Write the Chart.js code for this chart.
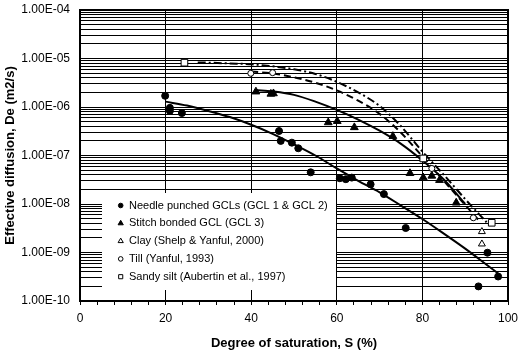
<!DOCTYPE html>
<html>
<head>
<meta charset="utf-8">
<script src="https://cdn.jsdelivr.net/npm/chart.js@4.4.1/dist/chart.umd.min.js"></script>
<style>
  html, body { margin: 0; padding: 0; background: #fff; }
</style>
</head>
<body>
<canvas id="diffChart" width="519" height="354"></canvas>
<script>
// measured points, degree of saturation S (%) and De (m2/s)
const needleS = [19.9, 21.0, 21.0, 23.8, 46.5, 46.9, 49.5, 51.0, 53.9, 60.7, 62.1, 63.5, 67.9, 71.0, 76.1, 93.1, 95.2, 97.7];
const needleDe = [1.7e-6, 9.6e-7, 8.3e-7, 7.5e-7, 3.2e-7, 2.0e-7, 1.84e-7, 1.41e-7, 4.5e-8, 3.4e-8, 3.25e-8, 3.5e-8, 2.55e-8, 1.6e-8, 3.2e-9, 2.0e-10, 9.9e-10, 3.2e-10];

const stitchS = [41.1, 44.6, 45.2, 58.0, 60.1, 64.1, 73.1, 77.1, 80.2, 82.2, 84.0, 87.9];
const stitchDe = [2.07e-6, 1.86e-6, 1.9e-6, 4.8e-7, 5.1e-7, 3.8e-7, 2.5e-7, 4.3e-8, 3.5e-8, 3.8e-8, 3.1e-8, 1.06e-8];

const clayS = [93.9, 93.9];
const clayDe = [2.7e-9, 1.5e-9];

const tillS = [39.9, 45.0, 82.2, 91.9];
const tillDe = [4.95e-6, 5.1e-6, 5.4e-8, 5.2e-9];

const siltS = [24.4, 80.2, 96.2];
const siltDe = [8.2e-6, 8.7e-8, 4.1e-9];

// fitted trend lines
const needleFitS = [20, 25, 30, 35, 40, 45, 50, 55, 60, 65, 70, 75, 80, 85, 90, 95, 97.7];
const needleFitDe = [1.29e-6, 1.07e-6, 8.3e-7, 6.2e-7, 4.3e-7, 2.8e-7, 1.7e-7, 1.0e-7, 5.4e-8, 3.0e-8, 1.74e-8, 9.3e-9, 4.9e-9, 2.45e-9, 1.2e-9, 5.6e-10, 3.7e-10];

const stitchFitS = [41, 45, 50, 55, 60, 65, 70, 75, 80, 85, 90];
const stitchFitDe = [2.24e-6, 2.09e-6, 1.78e-6, 1.29e-6, 8.7e-7, 5.5e-7, 3.24e-7, 1.74e-7, 7.9e-8, 3.2e-8, 1.0e-8];

const tillFitS = [40, 45, 50, 55, 60, 65, 70, 75, 80, 85, 90, 93];
const tillFitDe = [5.4e-6, 4.9e-6, 4.1e-6, 3.16e-6, 2.2e-6, 1.35e-6, 7.2e-7, 2.95e-7, 9.5e-8, 3.0e-8, 9.5e-9, 4.8e-9];

const siltFitS = [27.5, 30, 35, 40, 45, 50, 55, 60, 65, 70, 75, 80, 85, 90, 95];
const siltFitDe = [8.3e-6, 8.2e-6, 7.9e-6, 7.6e-6, 6.9e-6, 6.0e-6, 4.8e-6, 3.3e-6, 2.0e-6, 1.05e-6, 4.0e-7, 1.2e-7, 4.0e-8, 1.26e-8, 4.2e-9];

const legendLabels = [
  'Needle punched GCLs (GCL 1 & GCL 2)',
  'Stitch bonded GCL (GCL 3)',
  'Clay (Shelp & Yanful, 2000)',
  'Till (Yanful, 1993)',
  'Sandy silt (Aubertin et al., 1997)'
];

const decades = [-10, -9, -8, -7, -6, -5, -4];

const pts = (xs, ys) => xs.map((x, i) => ({ x: x, y: ys[i] }));

function sciLabel(v) {
  const e = Math.round(Math.log10(v));
  return '1.00E' + (e < 0 ? '-' : '+') + String(Math.abs(e)).padStart(2, '0');
}

// 1..9 x 10^n grid, no 1.5 steps
const yTicks = [];
decades.forEach(e => {
  for (let m = 1; m <= 9; m++) {
    if (e === -4 && m > 1) break;
    yTicks.push(Number(m + 'e' + e));
  }
});

Chart.defaults.font.family = '"Liberation Sans", Arial, sans-serif';
Chart.defaults.color = '#000';

const markerSet = (label, xs, ys, style, r, fill) => ({
  label: label,
  data: pts(xs, ys),
  pointStyle: style,
  pointRadius: r,
  pointBackgroundColor: fill,
  pointBorderColor: '#000',
  pointBorderWidth: 1,
  backgroundColor: fill,
  borderColor: '#000',
  showLine: false
});

const fitLine = (xs, ys, dash) => ({
  data: pts(xs, ys),
  showLine: true,
  pointRadius: 0,
  borderColor: '#000',
  borderWidth: 2,
  borderDash: dash,
  cubicInterpolationMode: 'monotone',
  fitLine: true
});

const legendBox = {
  id: 'legendBox',
  beforeDatasetsDraw(chart) {
    const ctx = chart.ctx;
    ctx.save();
    ctx.fillStyle = '#fff';
    ctx.fillRect(102, 193, 234, 97);
    ctx.font = '11px "Liberation Sans", Arial, sans-serif';
    ctx.textBaseline = 'middle';
    const sizes = [2.3, 3, 3, 2.3, 2.9];
    chart.data.datasets.filter(d => !d.fitLine).forEach((d, i) => {
      const y = 205.5 + i * 17.8;
      ctx.fillStyle = d.pointBackgroundColor;
      ctx.strokeStyle = '#000';
      ctx.lineWidth = 1;
      Chart.helpers.drawPoint(ctx, { pointStyle: d.pointStyle, radius: sizes[i], borderWidth: 1, rotation: 0 }, 120.7, y);
      ctx.fillStyle = '#000';
      ctx.fillText(d.label, 129, y);
    });
    ctx.restore();
  },
  afterDatasetsDraw(chart) {
    const a = chart.chartArea;
    const ctx = chart.ctx;
    ctx.save();
    ctx.strokeStyle = '#000';
    ctx.lineWidth = 2;
    ctx.strokeRect(a.left, a.top, a.right - a.left, a.bottom - a.top);
    ctx.restore();
  }
};

new Chart(document.getElementById('diffChart'), {
  type: 'scatter',
  data: {
    datasets: [
      markerSet(legendLabels[0], needleS, needleDe, 'circle', 3.5, '#000'),
      markerSet(legendLabels[1], stitchS, stitchDe, 'triangle', 4.5, '#000'),
      markerSet(legendLabels[2], clayS, clayDe, 'triangle', 4, '#fff'),
      markerSet(legendLabels[3], tillS, tillDe, 'circle', 3, '#fff'),
      markerSet(legendLabels[4], siltS, siltDe, 'rect', 4.7, '#fff'),
      fitLine(needleFitS, needleFitDe, []),
      fitLine(stitchFitS, stitchFitDe, []),
      fitLine(tillFitS, tillFitDe, [7, 4]),
      fitLine(siltFitS, siltFitDe, [8, 3, 2, 3])
    ]
  },
  options: {
    responsive: false,
    animation: false,
    layout: { padding: { left: 0, right: 11, top: 10, bottom: 0 } },
    plugins: {
      legend: { display: false },
      tooltip: { enabled: false }
    },
    scales: {
      x: {
        type: 'linear',
        min: 0,
        max: 100,
        afterFit: s => { s.height = 53; s.paddingLeft = 0; s.paddingRight = 0; },
        border: { display: false },
        grid: {
          color: c => (c.tick && c.tick.value % 20 === 0) ? '#000' : 'rgba(0,0,0,0)',
          tickColor: '#000',
          tickLength: 4,
          lineWidth: 1
        },
        ticks: {
          stepSize: 4,
          autoSkip: false,
          maxRotation: 0,
          padding: 6,
          font: { size: 12 },
          callback: v => (v % 20 === 0 ? String(v) : '')
        },
        title: {
          display: true,
          text: 'Degree of saturation, S (%)',
          font: { size: 13, weight: 'bold' },
          padding: { top: 0, bottom: 2.5 }
        }
      },
      y: {
        type: 'logarithmic',
        min: 1e-10,
        max: 1e-4,
        afterFit: s => { s.width = 80; s.paddingTop = 0; s.paddingBottom = 0; },
        afterBuildTicks: s => { s.ticks = yTicks.map(v => ({ value: v })); },
        border: { display: false },
        grid: {
          color: '#000',
          lineWidth: 1,
          drawTicks: false
        },
        ticks: {
          autoSkip: false,
          padding: 10,
          font: { size: 12 },
          callback: v => {
            const l = Math.log10(v);
            return Math.abs(l - Math.round(l)) < 1e-6 ? sciLabel(v) : '';
          }
        },
        title: {
          display: true,
          text: 'Effective diffusion, De (m2/s)',
          font: { size: 13, weight: 'bold' },
          padding: { top: 3, bottom: 0 }
        }
      }
    }
  },
  plugins: [legendBox]
});
</script>
</body>
</html>
